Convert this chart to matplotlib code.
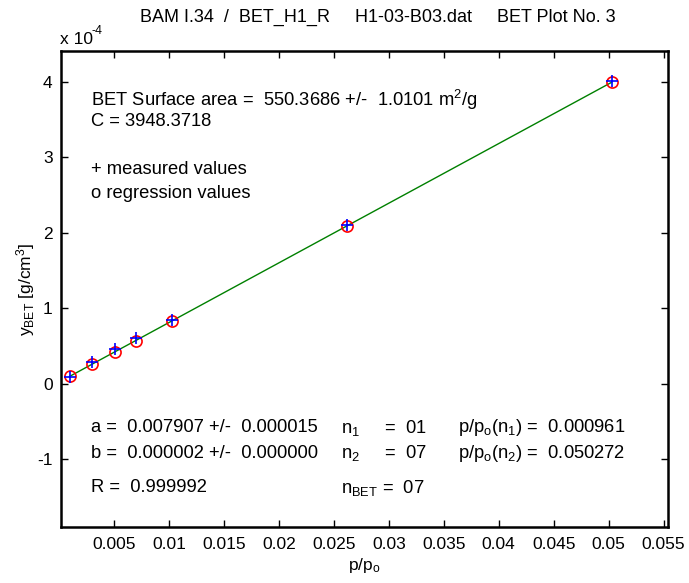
import matplotlib
matplotlib.use("Agg")
import matplotlib.pyplot as plt

plt.rcParams['font.family'] = ['Liberation Sans', 'DejaVu Sans']
plt.rcParams['mathtext.default'] = 'regular'
plt.rcParams['axes.unicode_minus'] = False

# BET data (y in units of 1e-4 g/cm^3)
p_rel = [0.000961, 0.00303, 0.00508, 0.00696, 0.0103, 0.02624, 0.050272]
y_measured = [0.095, 0.285, 0.455, 0.60, 0.845, 2.10, 4.01]
y_regression = [0.096, 0.26, 0.422, 0.570, 0.834, 2.095, 3.995]

x_ticks = [0.005, 0.01, 0.015, 0.02, 0.025, 0.03, 0.035, 0.04, 0.045, 0.05, 0.055]
x_labels = ['0.005', '0.01', '0.015', '0.02', '0.025', '0.03', '0.035', '0.04', '0.045', '0.05', '0.055']
y_ticks = [-1, 0, 1, 2, 3, 4]

W, H = 689, 583
fig = plt.figure(figsize=(W / 100, H / 100), dpi=100)
ax = fig.add_axes([61 / W, 1 - 527 / H, (668 - 61) / W, (527 - 51) / H])

ax.plot(p_rel, y_regression, color='#008000', lw=1.0)
ax.plot(p_rel, y_regression, 'o', mfc='none', mec='red', ms=8, mew=1.2)
ax.plot(p_rel, y_measured, '+', color='blue', ms=9, mew=1.2)

ax.set_xlim(0.00018, 0.0554)
ax.set_ylim(-1.9, 4.41)
ax.set_xticks(x_ticks)
ax.set_xticklabels(x_labels)
ax.set_yticks(y_ticks)
ax.tick_params(direction='in', top=True, right=True, labelsize=12.5, length=5, width=1)
ax.tick_params(axis='x', pad=7)
ax.tick_params(axis='y', pad=6)
for s in ax.spines.values():
    s.set_linewidth(1.8)

ax.set_xlabel('p/p$_o$', fontsize=12.5, labelpad=3)
ax.set_ylabel('y$_{BET}$ [g/cm$^3$]', fontsize=12.5, labelpad=0)

def ftext(x, y, s, size=13.2, **kw):
    fig.text(x / W, 1 - y / H, s, fontsize=size, va='center', **kw)

ftext(60, 39, 'x 10', size=12.5)
ftext(92, 31, '-4', size=9)
ftext(378, 17, 'BAM I.34  /  BET_H1_R     H1-03-B03.dat     BET Plot No. 3', ha='center', size=13)

ftext(91, 100, 'BET Surface area =  550.3686 +/-  1.0101 m$^2$/g')
ftext(91, 122, 'C = 3948.3718')
ftext(91, 169, '+ measured values')
ftext(91, 193, 'o regression values')

ftext(91, 428, 'a =  0.007907 +/-  0.000015')
ftext(91, 453, 'b =  0.000002 +/-  0.000000')
ftext(91, 488, 'R =  0.999992')
ftext(341, 428, 'n$_1$     =  01')
ftext(341, 453, 'n$_2$     =  07')
ftext(341, 488, 'n$_{BET}$ =  07')
ftext(458, 428, 'p/p$_o$(n$_1$) =  0.000961')
ftext(458, 453, 'p/p$_o$(n$_2$) =  0.050272')

fig.savefig('out.png', dpi=100)
